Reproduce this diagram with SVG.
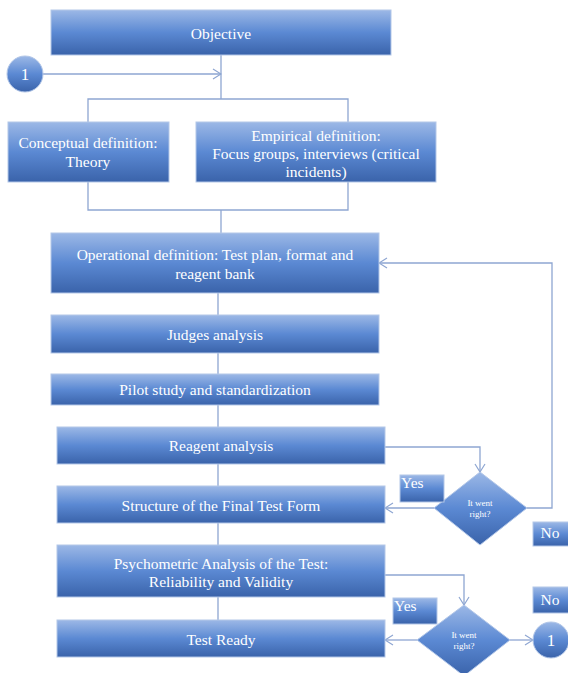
<svg xmlns="http://www.w3.org/2000/svg" width="568" height="673" viewBox="0 0 568 673">
<defs>
<linearGradient id="g" x1="0" y1="0" x2="0" y2="1">
<stop offset="0" stop-color="#9cb8e6"/>
<stop offset="0.5" stop-color="#5b89d3"/>
<stop offset="1" stop-color="#3a63aa"/>
</linearGradient>
<marker id="a" markerUnits="userSpaceOnUse" markerWidth="12" markerHeight="12" viewBox="0 0 12 12" refX="11" refY="6" orient="auto">
<path d="M3,1 L11,6 L3,11" fill="none" stroke="#8ea6d2" stroke-width="1.2"/>
</marker>
</defs>
<style>
.b{fill:url(#g);stroke:#b3c7e8;stroke-width:1}
text{font-family:'Liberation Serif','DejaVu Serif',serif;fill:#ffffff}
.t{font-size:15.5px;text-anchor:middle}
.s{font-size:9px;text-anchor:middle}
.l{font-size:15.5px}
.c{fill:none;stroke:#8ea6d2;stroke-width:1.3}
</style>
<rect width="568" height="673" fill="#ffffff"/>
<g id="connectors">
<path class="c" d="M43,74 H221" marker-end="url(#a)"/>
<path class="c" d="M221,55 V99"/>
<path class="c" d="M88,122 V99 H348 V122"/>
<path class="c" d="M88,182 V210 H348 V182"/>
<path class="c" d="M221,210 V233"/>
<path class="c" d="M218,293 V315 M218,353 V374 M218,405 V427 M218,464 V486 M218,523 V545 M218,597 V620"/>
<path class="c" d="M385,447 H480 V472" marker-end="url(#a)"/>
<path class="c" d="M434,508 H385" marker-end="url(#a)"/>
<path class="c" d="M527,508 H552 V263 H379" marker-end="url(#a)"/>
<path class="c" d="M385,575 H464 V605" marker-end="url(#a)"/>
<path class="c" d="M417,640 H385" marker-end="url(#a)"/>
<path class="c" d="M510,640 H533" marker-end="url(#a)"/>
</g>
<g id="objective"><rect class="b" x="51" y="10" width="340" height="45"/><text class="t" x="221" y="39">Objective</text></g>
<g id="circle1"><circle class="b" cx="25" cy="74" r="18"/><text class="t" x="25" y="80" style="font-size:17px">1</text></g>
<g id="conceptual"><rect class="b" x="8" y="122" width="161" height="60"/><text class="t" x="88" y="148">Conceptual definition:</text><text class="t" x="88" y="167">Theory</text></g>
<g id="empirical"><rect class="b" x="196" y="122" width="240" height="60"/><text class="t" x="316" y="141">Empirical definition:</text><text class="t" x="316" y="159">Focus groups, interviews (critical</text><text class="t" x="316" y="177">incidents)</text></g>
<g id="operational"><rect class="b" x="51" y="233" width="328" height="60"/><text class="t" x="215" y="260">Operational definition: Test plan, format and</text><text class="t" x="215" y="279">reagent bank</text></g>
<g id="judges"><rect class="b" x="51" y="315" width="328" height="38"/><text class="t" x="215" y="340">Judges analysis</text></g>
<g id="pilot"><rect class="b" x="51" y="374" width="328" height="31"/><text class="t" x="215" y="395">Pilot study and standardization</text></g>
<g id="reagent"><rect class="b" x="57" y="427" width="328" height="37"/><text class="t" x="221" y="451">Reagent analysis</text></g>
<g id="structure"><rect class="b" x="57" y="486" width="328" height="37"/><text class="t" x="221" y="511">Structure of the Final Test Form</text></g>
<g id="psychometric"><rect class="b" x="57" y="545" width="328" height="52"/><text class="t" x="221" y="569">Psychometric Analysis of the Test:</text><text class="t" x="221" y="587">Reliability and Validity</text></g>
<g id="ready"><rect class="b" x="57" y="620" width="328" height="37"/><text class="t" x="221" y="645">Test Ready</text></g>
<g id="decision1"><polygon class="b" points="480,472 527,508 480,545 434,508"/><text class="s" x="480" y="506">It went</text><text class="s" x="480" y="517">right?</text></g>
<g id="yes1"><rect class="b" x="400" y="475" width="44" height="27"/><text class="l" x="401" y="488">Yes</text></g>
<g id="no1"><rect class="b" x="533" y="522" width="36" height="24"/><text class="t" x="550" y="538">No</text></g>
<g id="decision2"><polygon class="b" points="464,605 510,640 464,676 417,640"/><text class="s" x="464" y="638">It went</text><text class="s" x="464" y="649">right?</text></g>
<g id="yes2"><rect class="b" x="393" y="598" width="44" height="26"/><text class="l" x="394" y="611">Yes</text></g>
<g id="no2"><rect class="b" x="533" y="587" width="36" height="26"/><text class="t" x="550" y="605">No</text></g>
<g id="circle2"><circle class="b" cx="551" cy="640" r="18"/><text class="t" x="551" y="646" style="font-size:17px">1</text></g>
</svg>
